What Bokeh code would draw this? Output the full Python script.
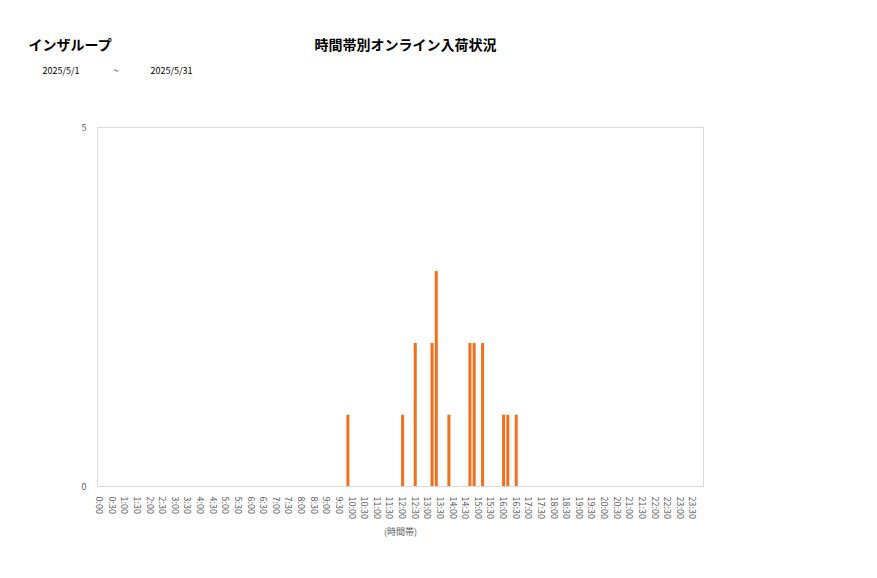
from bokeh.plotting import figure
from bokeh.models import Range1d, FixedTicker
from bokeh.layouts import column
from bokeh.core.properties import value
from bokeh.embed import file_html
from bokeh.resources import INLINE

# all 10-minute time slots
slots = [f"{h}:{m:02d}" for h in range(24) for m in range(0, 60, 10)]
# slots with arrivals and their counts
bar_slots = ["9:50", "12:00", "12:30", "13:10", "13:20", "13:50",
             "14:40", "14:50", "15:10", "16:00", "16:10", "16:30"]
bar_counts = [1, 1, 2, 2, 3, 1, 2, 2, 2, 1, 1, 1]
y_ticks = [0, 5]

company = "インザループ"
title = "時間帯別オンライン入荷状況"
date_from = "2025/5/1"
date_to = "2025/5/31"
x_label = "(時間帯)"

FONT = "Noto Sans CJK JP"
FRAME_L, FRAME_W = 97, 606
TOTAL_W = 873
HEAD_H = 121

bar_x = [slots.index(s) for s in bar_slots]
tick_idx = [i for i, s in enumerate(slots) if s.endswith(("00", "30"))]

# ---- header with the titles (own full-width frame) ----
h = figure(width=TOTAL_W, height=HEAD_H,
           x_range=Range1d(0, TOTAL_W), y_range=Range1d(HEAD_H, 0),
           min_border=0, output_backend="svg", toolbar_location=None,
           outline_line_color=None)
h.frame_align = False
h.axis.visible = False
h.grid.visible = False

h.text(x=[28], y=[43], text=[company], text_font=value(FONT),
       text_font_size="14px", text_font_style="bold", text_color="#000000",
       text_align="left", text_baseline="middle")
h.text(x=[405], y=[43], text=[title], text_font=value(FONT),
       text_font_size="14px", text_font_style="bold", text_color="#000000",
       text_align="center", text_baseline="middle")
h.text(x=[42, 113, 150], y=[70, 70, 70], text=[date_from, "~", date_to],
       text_font=value(FONT), text_font_size="9px", text_color="#000000",
       text_align="left", text_baseline="middle")

# ---- chart ----
p = figure(x_range=Range1d(-0.5, len(slots) - 0.5),
           y_range=Range1d(0, 5),
           frame_width=FRAME_W, frame_height=359,
           min_border_left=FRAME_L, min_border_right=TOTAL_W - FRAME_L - FRAME_W,
           min_border_top=127 - HEAD_H, min_border_bottom=70,
           output_backend="svg", toolbar_location=None,
           background_fill_color="white", border_fill_color="white")
p.frame_align = False

p.vbar(x=bar_x, top=bar_counts, width=0.72,
       fill_color="#f0701e", line_color=None)

p.outline_line_color = "#d9d9d9"
p.xgrid.visible = False
p.ygrid.visible = False

# y axis
p.yaxis.ticker = FixedTicker(ticks=y_ticks)
p.yaxis.axis_line_color = None
p.yaxis.major_tick_line_color = None
p.yaxis.minor_tick_line_color = None
p.yaxis.major_label_text_font = FONT
p.yaxis.major_label_text_font_size = "9px"
p.yaxis.major_label_text_color = "#595959"
p.yaxis.major_label_standoff = 5

# x axis
p.xaxis.ticker = FixedTicker(ticks=tick_idx)
p.xaxis.major_label_overrides = {i: slots[i] for i in tick_idx}
p.xaxis.axis_line_color = "#d9d9d9"
p.xaxis.major_tick_line_color = None
p.xaxis.minor_tick_line_color = None
p.xaxis.major_label_orientation = "vertical"
p.xaxis.major_label_text_font = FONT
p.xaxis.major_label_text_font_size = "9px"
p.xaxis.major_label_text_color = "#595959"
p.xaxis.major_label_standoff = 4
p.xaxis.axis_label = x_label
p.xaxis.axis_label_text_font = FONT
p.xaxis.axis_label_text_font_size = "9px"
p.xaxis.axis_label_text_font_style = "normal"
p.xaxis.axis_label_text_color = "#595959"
p.xaxis.axis_label_standoff = 3

layout = column(h, p, spacing=0)
open("out.html", "w").write(file_html(layout, INLINE))
